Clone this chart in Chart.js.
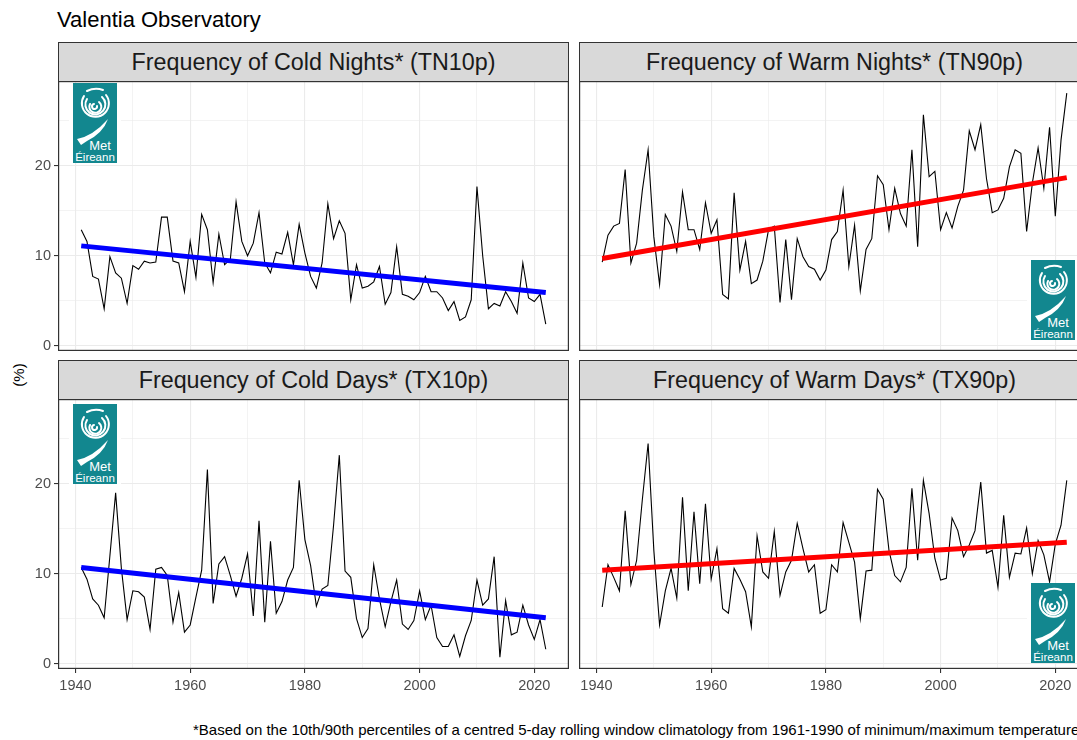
<!DOCTYPE html>
<html><head><meta charset="utf-8">
<script src="https://cdn.jsdelivr.net/npm/chart.js@4.4.0/dist/chart.umd.min.js"></script>
<style>
html,body{margin:0;padding:0;width:1077px;height:740px;overflow:hidden;background:#fff;font-family:"Liberation Sans",Arial,sans-serif;}
canvas{position:absolute;}
.strip{position:absolute;box-sizing:border-box;background:#D9D9D9;border:1px solid #333;color:#1A1A1A;font-size:23.3px;display:flex;align-items:center;justify-content:center;white-space:nowrap;}
.logo{position:absolute;background:#fff;padding:0 4px;width:44px;height:80px;}
.logo svg{display:block;}
#title{position:absolute;left:57px;top:7px;font-size:22px;color:#000;white-space:nowrap;}
#ylab{position:absolute;left:18px;top:375px;font-size:15px;color:#000;transform:translate(-50%,-50%) rotate(-90deg);white-space:nowrap;}
#note{position:absolute;left:193px;top:721px;font-size:15px;color:#000;white-space:nowrap;}
</style></head>
<body>
<div id="title">Valentia Observatory</div>
<div id="ylab">(%)</div>
<div class="strip" style="left:58px;top:42px;width:511px;height:40px;">Frequency of Cold Nights* (TN10p)</div>
<div class="strip" style="left:579px;top:42px;width:511px;height:40px;">Frequency of Warm Nights* (TN90p)</div>
<div class="strip" style="left:58px;top:360px;width:511px;height:40px;">Frequency of Cold Days* (TX10p)</div>
<div class="strip" style="left:579px;top:360px;width:511px;height:40px;">Frequency of Warm Days* (TX90p)</div>
<canvas id="c1" width="569" height="270" style="left:0;top:81px;"></canvas>
<canvas id="c2" width="511" height="270" style="left:579px;top:81px;"></canvas>
<canvas id="c3" width="569" height="300" style="left:0;top:399px;"></canvas>
<canvas id="c4" width="511" height="300" style="left:579px;top:399px;"></canvas>
<div class="logo" id="l1" style="left:69px;top:83px;"></div>
<div class="logo" id="l2" style="left:1027px;top:260px;"></div>
<div class="logo" id="l3" style="left:69px;top:404px;"></div>
<div class="logo" id="l4" style="left:1027px;top:583px;"></div>
<div id="note">*Based on the 10th/90th percentiles of a centred 5-day rolling window climatology from 1961-1990 of minimum/maximum temperatures</div>
<script>
// ---- data ----
const years = [1941,1942,1943,1944,1945,1946,1947,1948,1949,1950,1951,1952,1953,1954,1955,1956,1957,1958,1959,1960,
1961,1962,1963,1964,1965,1966,1967,1968,1969,1970,1971,1972,1973,1974,1975,1976,1977,1978,1979,1980,
1981,1982,1983,1984,1985,1986,1987,1988,1989,1990,1991,1992,1993,1994,1995,1996,1997,1998,1999,2000,
2001,2002,2003,2004,2005,2006,2007,2008,2009,2010,2011,2012,2013,2014,2015,2016,2017,2018,2019,2020,2021,2022];

const tn10p = [12.9,11.6,7.7,7.4,4.1,9.9,8.1,7.5,4.7,8.9,8.5,9.4,9.2,9.3,14.3,14.3,9.4,9.2,6.0,11.6,
7.6,14.6,12.9,7.0,12.4,9.0,9.6,16.0,11.6,10.0,11.4,14.8,9.2,8.1,10.4,10.2,12.6,9.0,13.5,10.3,
7.7,6.4,9.2,15.8,11.9,13.9,12.5,5.1,9.0,6.4,6.6,7.1,8.8,4.6,5.9,11.0,5.7,5.5,5.1,5.9,
7.7,6.0,6.0,5.3,3.9,4.9,2.8,3.2,5.1,17.7,10.0,4.1,4.7,4.4,6.0,4.9,3.6,9.2,5.3,4.9,5.7,2.4];

const tn90p = [9.3,12.3,13.3,13.6,19.6,9.2,11.4,17.3,21.8,12.1,6.8,14.6,13.3,10.5,17.1,12.9,12.9,10.7,15.9,12.5,
14.0,5.7,5.2,17.0,8.4,11.6,6.9,7.3,9.4,12.9,13.3,4.8,11.8,5.1,11.9,9.9,8.8,8.5,7.3,8.4,
11.8,12.7,17.3,8.8,13.4,6.1,10.7,11.9,18.9,17.9,12.9,17.5,14.7,13.3,21.8,11.0,25.7,18.8,19.4,12.9,
14.8,13.1,15.5,17.3,23.9,21.8,24.6,18.6,14.8,15.1,16.4,19.9,21.8,21.4,12.7,18.1,22.0,17.5,24.3,14.4,22.9,28.1];

const tx10p = [10.7,9.4,7.2,6.5,5.1,12.0,19.0,10.6,4.9,8.1,8.0,7.4,3.8,10.5,10.7,9.8,4.6,7.9,3.5,4.3,
7.4,10.4,21.6,6.7,11.1,11.9,9.8,7.5,9.5,12.2,5.3,15.9,4.6,13.6,5.6,6.9,9.3,10.7,20.4,13.8,
10.9,6.4,8.3,8.7,15.4,23.2,10.3,9.6,5.0,2.9,3.9,11.0,7.2,4.1,6.9,9.3,4.4,3.8,4.8,8.1,
4.9,6.5,2.9,1.9,1.9,3.2,0.8,3.1,4.8,9.3,6.5,7.2,11.9,0.7,7.0,3.2,3.5,6.5,4.3,2.7,4.9,1.6];

const tx90p = [6.3,11.0,9.6,8.1,17.0,8.8,11.5,18.3,24.5,12.6,4.3,8.1,10.6,7.3,18.5,8.1,16.9,8.9,17.8,9.4,
12.8,6.1,5.6,10.6,9.4,8.0,4.1,14.2,10.2,9.5,14.7,7.6,10.2,11.5,15.6,12.8,10.2,11.0,5.6,6.0,
11.0,10.2,15.7,13.5,11.3,5.0,10.3,10.4,19.4,18.3,12.6,9.8,9.1,10.7,19.5,11.5,20.4,16.7,11.7,9.3,
9.5,16.2,14.8,11.9,13.2,14.8,20.2,12.3,12.6,8.5,16.5,9.6,12.3,12.2,15.1,10.0,13.7,12.1,9.1,13.3,15.4,20.4];

// linear trend (fitted line) end points, first and last year
const trendYears = [1941, 2022];
const tn10pTrend = [11.1, 5.9];
const tn90pTrend = [9.7, 18.7];
const tx10pTrend = [10.7, 5.1];
const tx90pTrend = [10.4, 13.5];

const xTicks = [1940,1950,1960,1970,1980,1990,2000,2010,2020];
const xLabelTicks = [1940,1960,1980,2000,2020];
const yTicks = [0,5,10,15,20,25];
const yLabelTicks = [0,10,20];

// ---- chart ----
Chart.defaults.font.family = '"Liberation Sans", Arial, sans-serif';
const X_MIN = 1936.95, X_MAX = 2026.05, Y_MIN = -0.6, Y_MAX = 29.45;

const borderPlugin = {
  id: 'pborder',
  afterDraw(chart) {
    const {ctx, chartArea: a} = chart;
    ctx.save();
    ctx.strokeStyle = '#333333';
    ctx.lineWidth = 1.2;
    ctx.strokeRect(a.left + 0.6, a.top + 0.6, a.right - a.left - 1.2, a.bottom - a.top - 1.2);
    ctx.restore();
  }
};

function makeChart(id, series, trend, trendColor, showY, showX) {
  new Chart(document.getElementById(id), {
    type: 'line',
    data: {
      datasets: [
        { data: trend.map((v, i) => ({x: trendYears[i], y: v})), borderColor: trendColor, borderWidth: 5,
          pointRadius: 0, order: 0, borderCapStyle: 'butt', fill: false },
        { data: years.map((y, i) => ({x: y, y: series[i]})), borderColor: '#000000', borderWidth: 1.1,
          pointRadius: 0, order: 1, tension: 0, fill: false }
      ]
    },
    options: {
      responsive: false, animation: false, events: [],
      layout: { padding: 0 },
      plugins: { legend: { display: false }, tooltip: { enabled: false } },
      scales: {
        x: {
          type: 'linear', min: X_MIN, max: X_MAX,
          afterBuildTicks: s => { s.ticks = xTicks.map(v => ({value: v})); },
          afterFit: s => { s.height = showX ? 30 : 0; s.paddingLeft = 0; s.paddingRight = 0; s.paddingTop = 0; s.paddingBottom = 0; },
          border: { display: false },
          grid: {
            color: '#EBEBEB',
            lineWidth: c => (c.tick && xLabelTicks.includes(c.tick.value)) ? 1.1 : 0.6,
            drawTicks: showX, tickLength: 4,
            tickColor: c => (c.tick && xLabelTicks.includes(c.tick.value)) ? '#333333' : 'rgba(0,0,0,0)',
            tickWidth: 1.1
          },
          ticks: {
            display: showX, autoSkip: false, maxRotation: 0, minRotation: 0, padding: 4,
            color: '#4D4D4D', font: { size: 14.5 },
            callback: v => xLabelTicks.includes(v) ? String(v) : ''
          }
        },
        y: {
          type: 'linear', min: Y_MIN, max: Y_MAX,
          afterBuildTicks: s => { s.ticks = yTicks.map(v => ({value: v})); },
          afterFit: s => { s.width = showY ? 58 : 0; s.paddingLeft = 0; s.paddingRight = 0; s.paddingTop = 0; s.paddingBottom = 0; },
          border: { display: false },
          grid: {
            color: '#EBEBEB',
            lineWidth: c => (c.tick && yLabelTicks.includes(c.tick.value)) ? 1.1 : 0.6,
            drawTicks: showY, tickLength: 4,
            tickColor: c => (c.tick && yLabelTicks.includes(c.tick.value)) ? '#333333' : 'rgba(0,0,0,0)',
            tickWidth: 1.1
          },
          ticks: {
            display: showY, autoSkip: false, padding: 3,
            color: '#4D4D4D', font: { size: 14.5 },
            callback: v => yLabelTicks.includes(v) ? String(v) : ''
          }
        }
      }
    },
    plugins: [borderPlugin]
  });
}

makeChart('c1', tn10p, tn10pTrend, '#0000FF', true, false);
makeChart('c2', tn90p, tn90pTrend, '#FF0000', false, false);
makeChart('c3', tx10p, tx10pTrend, '#0000FF', true, true);
makeChart('c4', tx90p, tx90pTrend, '#FF0000', false, true);

// ---- logo ----
const logoSvg = `<svg width="44" height="80" viewBox="0 0 44 80" xmlns="http://www.w3.org/2000/svg">
<rect width="44" height="80" fill="#12878F"/>
<g fill="none" stroke="#fff" stroke-width="2" stroke-linecap="round">
<path d="M24 23 a2.5 2.5 0 1 1 -3 -2"/>
<path d="M26 19 a6 6 0 1 1 -9 2"/>
<path d="M29 14 a10 10 0 1 1 -15 2"/>
<path d="M33 12 a13.5 13.5 0 1 1 -22 1"/>
<path d="M14 8 q8 -4 16 -1"/>
</g>
<path d="M4 56 Q20 53 35 36 Q30 50 14 58 L8 62 Z" fill="#fff"/>
<text x="27" y="67" font-size="13" fill="#fff" text-anchor="middle" font-family="Liberation Sans, Arial, sans-serif">Met</text>
<text x="22" y="78" font-size="11.5" fill="#fff" text-anchor="middle" font-family="Liberation Sans, Arial, sans-serif">Éireann</text>
</svg>`;
['l1','l2','l3','l4'].forEach(id => { document.getElementById(id).innerHTML = logoSvg; });
</script>
</body></html>
